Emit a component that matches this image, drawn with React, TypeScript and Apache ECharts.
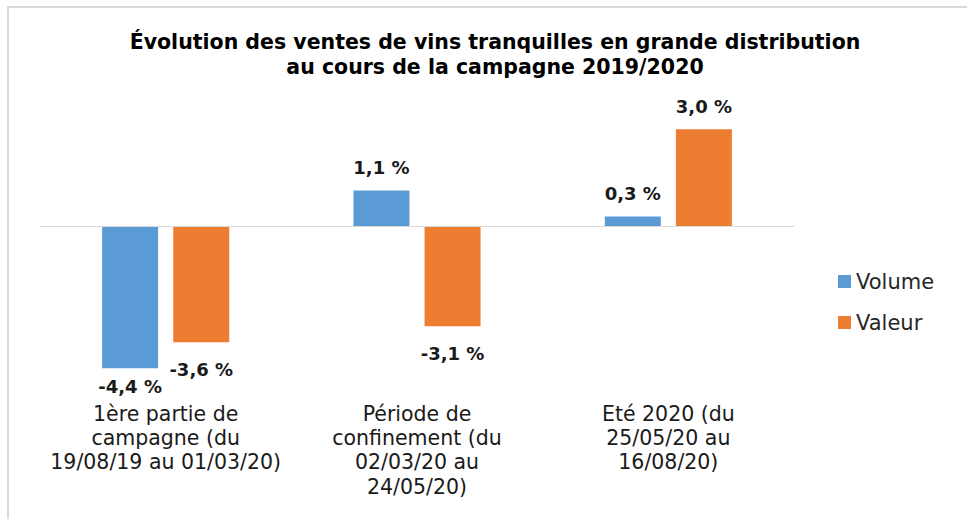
import React, { useEffect, useRef } from "react";
import * as echarts from "echarts";

const categories = [
  "1ère partie de\ncampagne (du\n19/08/19 au 01/03/20)",
  "Période de\nconfinement (du\n02/03/20 au\n24/05/20)",
  "Eté 2020 (du\n25/05/20 au\n16/08/20)",
];
const volume = [-4.4, 1.1, 0.3];
const valeur = [-3.6, -3.1, 3.0];
const titleLines = [
  "Évolution des ventes de vins tranquilles en grande distribution",
  "au cours de la campagne 2019/2020",
];

const fmt = (v: number) => v.toFixed(1).replace(".", ",") + " %";

export default function App() {
  const ref = useRef<HTMLDivElement>(null);
  useEffect(() => {
    if (!ref.current) return;
    const chart = echarts.init(ref.current, undefined, { renderer: "svg" });
    const labelFont = "DejaVu Sans";
    const mkData = (arr: number[], small: boolean) =>
      arr.map((v) => ({
        value: v,
        label: {
          position: v >= 0 ? "top" : "bottom",
          distance: v >= 0 ? 14 : small && v < -4 ? 9 : 18,
        },
      }));
    chart.setOption({
      animation: false,
      backgroundColor: "#ffffff",
      title: titleLines.map((t, i) => ({
        text: t,
        left: 490,
        top: 26 + i * 25,
        textAlign: "center",
        textStyle: {
          fontFamily: "DejaVu Sans",
          fontWeight: "bold",
          fontSize: 20.5,
          lineHeight: 21,
          color: "#000000",
        },
      })),
      legend: {
        orient: "vertical",
        left: 833,
        top: 266,
        itemWidth: 13,
        itemHeight: 13,
        itemGap: 20,
        icon: "rect",
        textStyle: { fontFamily: labelFont, fontSize: 21, color: "#262626" },
        data: ["Volume", "Valeur"],
      },
      grid: { left: 40, right: 173, top: 97, bottom: 131.5 },
      xAxis: {
        type: "category",
        data: categories,
        axisLine: { show: false, onZero: false },
        axisTick: { show: false },
        axisLabel: {
          interval: 0,
          margin: 14,
          fontFamily: labelFont,
          fontSize: 20.5,
          lineHeight: 24.3,
          color: "#1a1a1a",
          align: "center",
        },
      },
      yAxis: {
        type: "value",
        min: -5,
        max: 4,
        show: false,
        splitLine: { show: false },
      },
      series: [
        {
          name: "Volume",
          type: "bar",
          data: mkData(volume, true),
          barWidth: 56,
          barGap: "27%",
          itemStyle: { color: "#5B9BD5" },
          label: {
            show: true,
            formatter: (p: any) => fmt(p.value),
            fontFamily: labelFont,
            fontWeight: "bold",
            fontSize: 18,
            color: "#1a1a1a",
          },
          markLine: {
            silent: true,
            symbol: "none",
            label: { show: false },
            lineStyle: { color: "#d9d9d9", type: "solid", width: 1 },
            data: [{ yAxis: 0 }],
          },
        },
        {
          name: "Valeur",
          type: "bar",
          data: mkData(valeur, false),
          barWidth: 56,
          barGap: "27%",
          itemStyle: { color: "#ED7D31" },
          label: {
            show: true,
            formatter: (p: any) => fmt(p.value),
            fontFamily: labelFont,
            fontWeight: "bold",
            fontSize: 18,
            color: "#1a1a1a",
          },
        },
      ],
      graphic: [
        {
          type: "line",
          shape: { x1: 7, y1: 7, x2: 967, y2: 7 },
          style: { stroke: "#d9d9d9", lineWidth: 2 },
        },
        {
          type: "line",
          shape: { x1: 8, y1: 7, x2: 8, y2: 519 },
          style: { stroke: "#d9d9d9", lineWidth: 2 },
        },
      ],
    });
    return () => chart.dispose();
  }, []);
  return (
    <div
      ref={ref}
      style={{ position: "fixed", left: 0, top: 0, width: 967, height: 519 }}
    />
  );
}
